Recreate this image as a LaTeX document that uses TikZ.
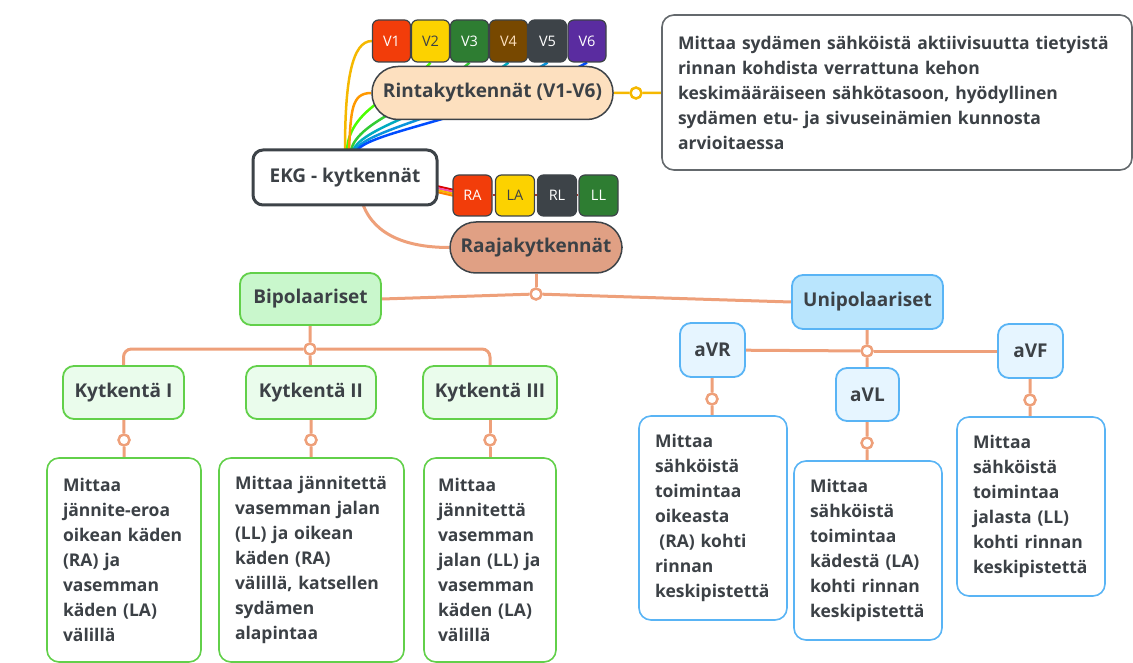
\documentclass[tikz,border=0pt]{standalone}
\usepackage{fontspec}
\setmainfont{Open Sans}
\usetikzlibrary{calc, backgrounds}
\definecolor{cInk}{HTML}{3C4146}
\definecolor{cEdge}{HTML}{3D4348}
\definecolor{cPeach}{HTML}{FDE0BF}
\definecolor{cSalmon}{HTML}{E0A084}
\definecolor{cLink}{HTML}{EEA07A}
\definecolor{cGold}{HTML}{F5B800}
\definecolor{cBipFill}{HTML}{C9F7CC}
\definecolor{cBipLine}{HTML}{62D04A}
\definecolor{cKytFill}{HTML}{EAFCEC}
\definecolor{cUniFill}{HTML}{B9E5FD}
\definecolor{cUniLine}{HTML}{59B4F5}
\definecolor{cAvFill}{HTML}{E6F5FF}
\definecolor{cRed}{HTML}{F23D0A}
\definecolor{cYellow}{HTML}{FCD200}
\definecolor{cGreen}{HTML}{2E7D32}
\definecolor{cBrown}{HTML}{774800}
\definecolor{cSlate}{HTML}{3D4348}
\definecolor{cPurple}{HTML}{5A2CA0}
\definecolor{cBrick}{HTML}{B03A2E}
\tikzset{
	topic/.style   ={rectangle, rounded corners=10pt, draw=cEdge, line width=3pt, fill=white, text=cInk, minimum width=184, minimum height=55, font=\fontsize{19}{22}\selectfont\bfseries},
	pill/.style    ={rectangle, rounded corners=26pt, draw=cEdge, line width=1.5pt, text=cInk, minimum height=53, font=\fontsize{19}{22}\selectfont\bfseries},
	badge/.style   ={rectangle, rounded corners=6pt, draw=cEdge, line width=1.2pt, minimum width=38, minimum height=42, inner sep=0pt, font=\fontsize{14.5}{16}\selectfont},
	grp/.style     ={rectangle, rounded corners=11pt, line width=1.8pt, text=cInk, minimum height=53, font=\fontsize{19}{22}\selectfont\bfseries},
	note/.style    ={rectangle, rounded corners=12pt, line width=1.6pt, fill=white, text=cInk, align=left, inner xsep=16pt, font=\fontsize{17.5}{25}\selectfont\bfseries},
	link/.style    ={draw=cLink, line width=3pt},
	knot/.style    ={circle, draw=cLink, fill=white, line width=2.5pt, minimum size=11pt, inner sep=0pt},
}
\begin{document}
\begin{tikzpicture}[x=1pt, y=-1pt]
	\useasboundingbox (0,0) rectangle (1133,663);
	% root and chest leads
	\node[topic] (ekg) at (345,177.5) {EKG - kytkennät};
	\node[pill, fill=cPeach, minimum width=241] (chest) at (492.5,93) {Rintakytkennät (V1-V6)};
	\foreach \n/\x/\fc/\tc in {1/391.5/cRed/white, 2/430.5/cYellow/cInk, 3/469.5/cGreen/white, 4/508.5/cBrown/cPeach, 5/547.5/cSlate/white, 6/587/cPurple/white}
		\node[badge, fill=\fc, text=\tc] (v\n) at (\x,41) {V\n};
	\node[note, draw=cEdge!80, text width=438, minimum width=470, minimum height=155] (chestnote) at (897,92.5)
		{Mittaa sydämen sähköistä aktiivisuutta tietyistä\\ rinnan kohdista verrattuna kehon\\ keskimääräiseen sähkötasoon, hyödyllinen\\ sydämen etu- ja sivuseinämien kunnosta\\ arvioitaessa};
	\node[knot, draw=cGold] (kc) at (636,93) {};
	% limb leads
	\node[pill, fill=cSalmon, minimum width=172, minimum height=51] (limb) at (536,247.5) {Raajakytkennät};
	\foreach \n/\x/\fc/\tc in {ra/472.5/cRed/white, la/515/cYellow/cInk, rl/557/cSlate/white, ll/598.5/cGreen/white}
		\node[badge, fill=\fc, text=\tc, minimum width=39, minimum height=41] (\n) at (\x,195.5) {\MakeUppercase{\n}};
	\node[knot] (kl) at (536,294) {};
	% bipolar
	\node[grp, draw=cBipLine, fill=cBipFill, minimum width=141, minimum height=52] (bip) at (310.5,299) {Bipolaariset};
	\node[knot] (kb) at (310,349) {};
	\node[grp, draw=cBipLine, fill=cKytFill, minimum width=121] (k1) at (123.5,392.5) {Kytkentä I};
	\node[grp, draw=cBipLine, fill=cKytFill, minimum width=130] (k2) at (311,392.5) {Kytkentä II};
	\node[grp, draw=cBipLine, fill=cKytFill, minimum width=134] (k3) at (490,392.5) {Kytkentä III};
	\node[knot] (kk1) at (124,440) {};
	\node[knot] (kk2) at (311,440) {};
	\node[knot] (kk3) at (490,440) {};
	\node[note, draw=cBipLine, text width=122, minimum width=154, minimum height=204] (d1) at (124,560)
		{Mittaa\\ jännite-eroa\\ oikean käden\\ (RA) ja\\ vasemman\\ käden (LA)\\ välillä};
	\node[note, draw=cBipLine, text width=153, minimum width=185, minimum height=204] (d2) at (311.5,560)
		{Mittaa jännitettä\\ vasemman jalan\\ (LL) ja oikean\\ käden (RA)\\ välillä, katsellen\\ sydämen\\ alapintaa};
	\node[note, draw=cBipLine, inner xsep=14pt, text width=104, minimum width=132, minimum height=204] (d3) at (490,560)
		{Mittaa\\ jännitettä\\ vasemman\\ jalan (LL) ja\\ vasemman\\ käden (LA)\\ välillä};
	% unipolar
	\node[grp, draw=cUniLine, fill=cUniFill, minimum width=151, minimum height=54] (uni) at (867.5,302) {Unipolaariset};
	\node[knot] (ku) at (867,351) {};
	\node[grp, draw=cUniLine, fill=cAvFill, minimum width=65, minimum height=54] (avr) at (712.5,350) {aVR};
	\node[grp, draw=cUniLine, fill=cAvFill, minimum width=63] (avl) at (867.5,394.5) {aVL};
	\node[grp, draw=cUniLine, fill=cAvFill, minimum width=65, minimum height=54] (avf) at (1030.5,351) {aVF};
	\node[knot] (kr) at (712,399) {};
	\node[knot] (kv) at (867,443) {};
	\node[knot] (kf) at (1030,400) {};
	\node[note, draw=cUniLine, text width=116, minimum width=148, minimum height=204] (r1) at (713,518)
		{Mittaa\\ sähköistä\\ toimintaa\\ oikeasta\\ \hspace{0.25em}(RA) kohti\\ rinnan\\ keskipistettä};
	\node[note, draw=cUniLine, text width=116, minimum width=148, minimum height=179] (r2) at (868,550.5)
		{Mittaa\\ sähköistä\\ toimintaa\\ kädestä (LA)\\ kohti rinnan\\ keskipistettä};
	\node[note, draw=cUniLine, text width=116, minimum width=148, minimum height=179] (r3) at (1031,506.5)
		{Mittaa\\ sähköistä\\ toimintaa\\ jalasta (LL)\\ kohti rinnan\\ keskipistettä};
	% connectors
	\begin{scope}[on background layer]
		\draw[line width=2.5pt, cGold] ($(ekg.north)+(0,2)$) .. controls +(0,-70) and +(-20,0) .. (v1.west);
		\draw[line width=2.5pt, green!70!yellow] ($(ekg.north)+(2,2)$) .. controls +(2,-45) and +(-25,30) .. (v2.south);
		\draw[line width=2.5pt, orange!80!yellow] ($(ekg.north)+(4,2)$) .. controls +(2,-40) and +(-20,0) .. (chest.west);
		\draw[line width=2.5pt, green!75!black!80] ($(ekg.north)+(6,2)$) .. controls +(6,-30) and +(-45,40) .. (v3.south);
		\draw[line width=2.5pt, cyan!70!green] ($(ekg.north)+(8,2)$) .. controls +(10,-25) and +(-60,45) .. (v4.south);
		\draw[line width=2.5pt, cyan!80!blue] ($(ekg.north)+(10,2)$) .. controls +(12,-22) and +(-80,50) .. (v5.south);
		\draw[line width=2.5pt, blue!70!cyan] ($(ekg.north)+(12,2)$) .. controls +(14,-20) and +(-100,55) .. (v6.south);
		\draw[line width=2pt, cBrick] (ra) -- (ll);
		\draw[line width=2pt, red!85!black] ($(ekg.east)+(-4,8)$) -- ($(ra.west)+(4,-5)$);
		\draw[line width=2pt, magenta!70] ($(ekg.east)+(-4,10)$) -- ($(ra.west)+(4,-3)$);
		\draw[line width=2pt, cGold] ($(ekg.east)+(-4,12)$) -- ($(ra.west)+(4,-1)$);
		\draw[line width=2pt, orange] ($(ekg.east)+(-4,14)$) -- ($(ra.west)+(4,1)$);
		\draw[link] ($(ekg.south)+(18,-2)$) .. controls +(12,32) and +(-40,0) .. (limb.west);
		\draw[line width=2.5pt, cGold] (chest) -- (kc) -- (chestnote);
		\draw[link] (limb) -- (kl);
		\draw[link] (kl) -- (bip.east);
		\draw[link] (kl) -- (uni.west);
		\draw[link] (bip) -- (kb);
		\draw[link] (kb) -- (k2);
		\draw[link, rounded corners=8pt] (kb) -| (k1.north);
		\draw[link, rounded corners=8pt] (kb) -| (k3.north);
		\draw[link] (k1) -- (kk1) -- (d1);
		\draw[link] (k2) -- (kk2) -- (d2);
		\draw[link] (k3) -- (kk3) -- (d3);
		\draw[link] (uni) -- (ku) -- (avl);
		\draw[link] (ku) -- (avr);
		\draw[link] (ku) -- (avf);
		\draw[link] (avr) -- (kr) -- (r1);
		\draw[link] (avl) -- (kv) -- (r2);
		\draw[link] (avf) -- (kf) -- (r3);
	\end{scope}
\end{tikzpicture}
\end{document}
